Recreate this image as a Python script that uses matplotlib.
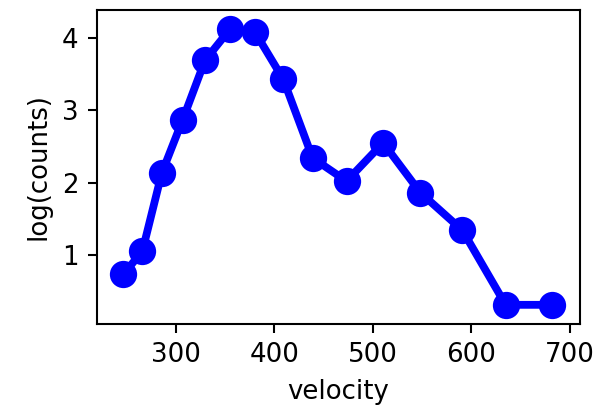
import matplotlib
matplotlib.use("Agg")
import matplotlib.pyplot as plt

velocity = [246.7, 266.1, 285.8, 307.1, 329.7, 355.0, 380.4, 409.1,
            438.9, 473.3, 510.4, 548.3, 590.9, 634.8, 682.2]
log_counts = [0.73, 1.05, 2.13, 2.87, 3.69, 4.12, 4.08, 3.43,
              2.34, 2.02, 2.55, 1.86, 1.34, 0.31, 0.31]

dpi = 187
fig = plt.figure(figsize=(605 / dpi, 413 / dpi), dpi=dpi)
ax = fig.add_axes([0.160, 0.2155, 0.799, 0.761])

ax.plot(velocity, log_counts, color="blue", linewidth=3,
        marker="o", markersize=9.5)

ax.set_xlim(219.9, 710.4)
ax.set_ylim(0.045, 4.39)
ax.set_xticks([300, 400, 500, 600, 700])
ax.set_yticks([1, 2, 3, 4])
ax.set_xlabel("velocity")
ax.set_ylabel("log(counts)")

fig.savefig("out.png", dpi=dpi)
